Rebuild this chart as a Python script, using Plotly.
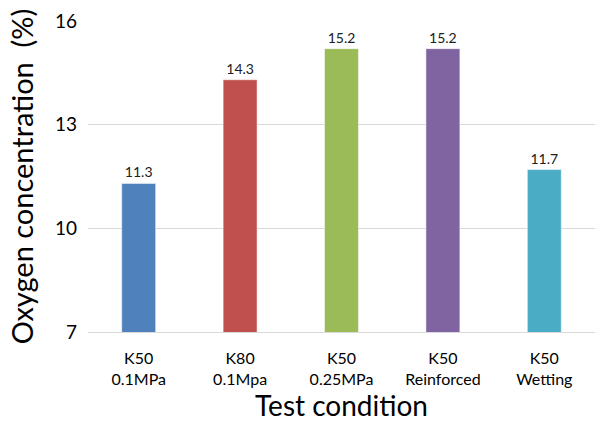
import plotly.graph_objects as go

categories = ["K50<br>0.1MPa", "K80<br>0.1Mpa", "K50<br>0.25MPa", "K50<br>Reinforced", "K50<br>Wetting"]
values = [11.3, 14.3, 15.2, 15.2, 11.7]
colors = ["#4F81BD", "#C0504D", "#9BBB59", "#8064A2", "#4BACC6"]
y_ticks = [7, 10, 13, 16]

FONT = "Lato"

fig = go.Figure(
    go.Bar(
        x=categories,
        y=values,
        marker=dict(color=colors, line=dict(color="rgba(255,255,255,0.5)", width=1)),
        text=[f"{v:.1f}" for v in values],
        textposition="outside",
        textfont=dict(size=14, color="#202020", family=FONT),
        cliponaxis=False,
    )
)

fig.update_layout(
    width=595,
    height=422,
    margin=dict(l=88, r=0, t=21, b=90),
    paper_bgcolor="white",
    plot_bgcolor="white",
    bargap=0.665,
    showlegend=False,
    font=dict(family=FONT, color="#000000"),
)

fig.update_xaxes(
    tickfont=dict(size=16, color="#000000", family=FONT),
    title=dict(text="Test condition", font=dict(size=28, family=FONT), standoff=4),
    showline=True,
    linecolor="#D9D9D9",
    linewidth=1,
    ticks="",
    ticklabelstandoff=12,
)
fig.update_yaxes(
    range=[7, 16],
    tickvals=y_ticks,
    tickfont=dict(size=19, color="#000000", family=FONT),
    title=dict(text="Oxygen concentration  (%)", font=dict(size=29, family=FONT), standoff=12),
    showgrid=True,
    gridcolor="#D9D9D9",
    gridwidth=1,
    zeroline=False,
    ticks="",
    ticklabelstandoff=10,
)

fig.write_html("out.html")
